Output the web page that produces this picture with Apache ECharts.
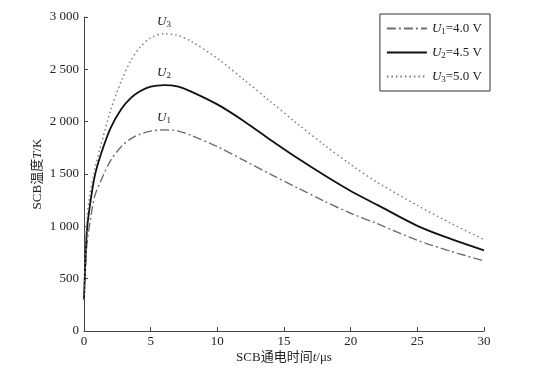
<!DOCTYPE html>
<html>
<head>
    <meta charset="utf-8">
    <title>SCB temperature</title>
    <script src="https://cdn.jsdelivr.net/npm/echarts@6/dist/echarts.min.js"></script>
</head>
<body style="margin:0">
    <div id="main" style="width:535px;height:376px;"></div>
    <script>
        // time (us) and SCB temperature (K)
        var times = [0, 0.2, 0.4, 0.8, 1.3, 2, 2.8, 3.5, 4.2, 5, 6, 7, 8, 10, 12, 14, 16, 18, 20, 22, 25, 27.5, 30];
        var tempU1 = [300, 800, 1000, 1286, 1445, 1630, 1763, 1835, 1880, 1910, 1922, 1912, 1870, 1762, 1630, 1497, 1368, 1242, 1125, 1025, 867, 762, 670];
        var tempU2 = [300, 930, 1160, 1477, 1700, 1940, 2120, 2225, 2290, 2335, 2350, 2338, 2290, 2165, 2005, 1825, 1652, 1490, 1338, 1205, 1005, 880, 771];
        var tempU3 = [300, 1030, 1270, 1540, 1790, 2110, 2390, 2580, 2710, 2800, 2840, 2825, 2770, 2605, 2400, 2190, 1980, 1780, 1590, 1420, 1200, 1030, 873];
        var seriesNames = ['U1=4.0 V', 'U2=4.5 V', 'U3=5.0 V'];
        var peakLabels = ['U1', 'U2', 'U3'];

        var serif = '"Liberation Serif", "Times New Roman", serif';
        var cjk = '"Liberation Serif", "Noto Sans CJK SC", serif';

        function pairs(vals) {
            return times.map(function (t, i) { return [t, vals[i]]; });
        }
        function peakOf(vals) {
            var k = 0;
            vals.forEach(function (v, i) { if (v > vals[k]) k = i; });
            return [times[k], vals[k]];
        }
        function subText(name) {
            // "U1=4.0 V" -> italic U, subscript digit, rest
            return '{i|U}{s|' + name.charAt(1) + '}{n|' + name.slice(2) + '}';
        }

        var richText = {
            i: { fontFamily: serif, fontStyle: 'italic', fontSize: 13, color: '#222' },
            s: { fontFamily: serif, fontSize: 9, color: '#222', verticalAlign: 'bottom', padding: [6, 0, 0, 0] },
            n: { fontFamily: serif, fontSize: 13, color: '#222' }
        };

        var styles = [
            { color: '#6e6e6e', width: 1.4, type: [9, 3, 2, 3] },
            { color: '#111', width: 1.8, type: 'solid' },
            { color: '#777', width: 1.4, type: [1.5, 3] }
        ];
        var allVals = [tempU1, tempU2, tempU3];

        var series = allVals.map(function (vals, k) {
            return {
                name: seriesNames[k],
                type: 'line',
                smooth: 0.3,
                showSymbol: false,
                symbol: 'none',
                data: pairs(vals),
                lineStyle: styles[k],
                itemStyle: { color: styles[k].color },
                markPoint: {
                    symbol: 'circle',
                    symbolSize: 1,
                    itemStyle: { color: 'rgba(0,0,0,0)' },
                    data: [{ coord: peakOf(vals) }],
                    label: {
                        show: true,
                        position: 'top',
                        distance: 4,
                        formatter: '{i|U}{s|' + peakLabels[k].charAt(1) + '}',
                        rich: richText
                    }
                }
            };
        });

        var chart = echarts.init(document.getElementById('main'));
        var option = {
            animation: false,
            backgroundColor: '#fff',
            grid: { left: 84, right: 51, top: 17, bottom: 45 },
            legend: {
                orient: 'vertical',
                right: 45,
                top: 14,
                data: seriesNames,
                itemWidth: 40,
                itemHeight: 10,
                itemGap: 10,
                padding: [8, 8, 7, 6],
                borderColor: '#333',
                borderWidth: 1,
                itemStyle: { opacity: 0 },
                formatter: subText,
                textStyle: { rich: richText }
            },
            xAxis: {
                type: 'value',
                min: 0,
                max: 30,
                interval: 5,
                name: 'SCB通电时间{i|t}/μs',
                nameLocation: 'middle',
                nameGap: 20,
                nameMoveOverlap: false,
                nameTextStyle: {
                    fontFamily: cjk, fontSize: 13, color: '#222',
                    rich: { i: { fontFamily: serif, fontStyle: 'italic', fontSize: 13, color: '#222' } }
                },
                axisLine: { lineStyle: { color: '#444', width: 1 } },
                axisTick: { inside: true, length: 4, lineStyle: { color: '#444' } },
                axisLabel: { fontFamily: serif, fontSize: 13, color: '#222', margin: 4 },
                splitLine: { show: false }
            },
            yAxis: {
                type: 'value',
                min: 0,
                max: 3000,
                interval: 500,
                name: 'SCB温度{i|T}/K',
                nameLocation: 'middle',
                nameRotate: 90,
                nameGap: 40,
                nameMoveOverlap: false,
                nameTextStyle: {
                    fontFamily: cjk, fontSize: 13, color: '#222',
                    rich: { i: { fontFamily: serif, fontStyle: 'italic', fontSize: 13, color: '#222' } }
                },
                axisLine: { show: true, lineStyle: { color: '#444', width: 1 } },
                axisTick: { show: true, inside: true, length: 4, lineStyle: { color: '#444' } },
                axisLabel: {
                    fontFamily: serif, fontSize: 13, color: '#222', margin: 5,
                    formatter: function (v) {
                        return v >= 1000 ? Math.floor(v / 1000) + ' ' + String(v % 1000).padStart(3, '0') : String(v);
                    }
                },
                splitLine: { show: false }
            },
            series: series
        };

        option && chart.setOption(option);
    </script>
</body>
</html>
